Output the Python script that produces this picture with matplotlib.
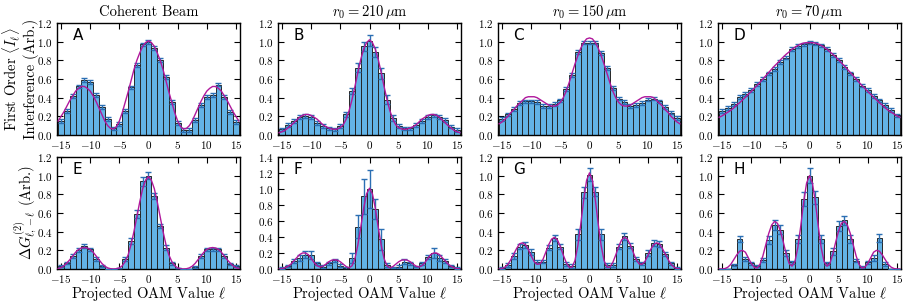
import matplotlib
matplotlib.use("Agg")
import matplotlib.pyplot as plt
import numpy as np

plt.rcParams['font.family'] = 'serif'
plt.rcParams['font.serif'] = ['cmr10', 'DejaVu Serif']
plt.rcParams['mathtext.fontset'] = 'cm'
plt.rcParams['axes.formatter.use_mathtext'] = True
plt.rcParams['axes.unicode_minus'] = True

# OAM values of the bars and of the fit curves
ell = np.arange(-15, 16)
ell_fit = np.arange(-15.5, 15.51, 0.5)

# ---- top row: first order interference ----
A_vals = [0.15, 0.26, 0.42, 0.52, 0.59, 0.57, 0.43, 0.30, 0.17, 0.07, 0.12, 0.26, 0.51, 0.75, 0.97, 1.00,
          0.93, 0.80, 0.62, 0.35, 0.13, 0.05, 0.05, 0.16, 0.32, 0.41, 0.43, 0.54, 0.41, 0.25, 0.14]
A_err = [0.02] * 31
A_fit = [0.15, 0.20, 0.25, 0.31, 0.37, 0.42, 0.47, 0.50, 0.52, 0.52, 0.50, 0.47, 0.42, 0.36, 0.29, 0.22,
         0.15, 0.10, 0.07, 0.065, 0.09, 0.15, 0.24, 0.35, 0.46, 0.58, 0.70, 0.80, 0.88, 0.95, 0.99,
         1.01,
         0.99, 0.95, 0.88, 0.80, 0.70, 0.58, 0.46, 0.35, 0.24, 0.15, 0.09, 0.065, 0.07, 0.10, 0.15,
         0.22, 0.29, 0.36, 0.42, 0.47, 0.50, 0.52, 0.52, 0.50, 0.47, 0.42, 0.37, 0.31, 0.25, 0.20, 0.15]

B_vals = [0.06, 0.11, 0.15, 0.19, 0.20, 0.19, 0.13, 0.10, 0.07, 0.06, 0.10, 0.22, 0.47, 0.72, 0.95, 1.01,
          0.89, 0.66, 0.38, 0.18, 0.10, 0.07, 0.07, 0.11, 0.15, 0.19, 0.21, 0.19, 0.16, 0.09, 0.05]
B_err = [0.02, 0.02, 0.02, 0.02, 0.02, 0.02, 0.02, 0.02, 0.02, 0.02, 0.02, 0.03, 0.03, 0.05, 0.05, 0.06,
         0.05, 0.06, 0.05, 0.03, 0.02, 0.02, 0.02, 0.02, 0.02, 0.02, 0.02, 0.02, 0.02, 0.02, 0.02]
B_fit = [0.025, 0.035, 0.05, 0.075, 0.10, 0.13, 0.16, 0.19, 0.21, 0.22, 0.22, 0.21, 0.19, 0.17, 0.14, 0.11,
         0.09, 0.075, 0.065, 0.06, 0.065, 0.08, 0.11, 0.17, 0.26, 0.38, 0.52, 0.67, 0.81, 0.92, 0.99,
         1.02,
         0.99, 0.92, 0.81, 0.67, 0.52, 0.38, 0.26, 0.17, 0.11, 0.08, 0.065, 0.06, 0.065, 0.075, 0.09,
         0.11, 0.14, 0.17, 0.19, 0.21, 0.22, 0.22, 0.21, 0.19, 0.16, 0.13, 0.10, 0.075, 0.05, 0.035, 0.025]

C_vals = [0.17, 0.22, 0.28, 0.34, 0.36, 0.36, 0.35, 0.31, 0.31, 0.33, 0.37, 0.49, 0.64, 0.89, 0.99, 0.99,
          0.99, 0.88, 0.72, 0.50, 0.39, 0.35, 0.31, 0.32, 0.34, 0.38, 0.39, 0.36, 0.30, 0.24, 0.18]
C_err = [0.02] * 31
C_fit = [0.12, 0.14, 0.17, 0.20, 0.24, 0.27, 0.31, 0.34, 0.37, 0.40, 0.41, 0.41, 0.41, 0.40, 0.38, 0.36,
         0.34, 0.32, 0.31, 0.31, 0.32, 0.35, 0.40, 0.47, 0.56, 0.66, 0.76, 0.85, 0.93, 0.99, 1.03,
         1.04,
         1.03, 0.99, 0.93, 0.85, 0.76, 0.66, 0.56, 0.47, 0.40, 0.35, 0.32, 0.31, 0.31, 0.32, 0.34,
         0.36, 0.38, 0.40, 0.41, 0.41, 0.41, 0.40, 0.37, 0.34, 0.31, 0.27, 0.24, 0.20, 0.17, 0.14, 0.12]

D_vals = [0.26, 0.29, 0.33, 0.41, 0.44, 0.48, 0.55, 0.60, 0.66, 0.71, 0.78, 0.83, 0.92, 0.95, 0.97, 0.99,
          0.98, 0.96, 0.92, 0.86, 0.80, 0.73, 0.66, 0.60, 0.53, 0.48, 0.42, 0.37, 0.32, 0.27, 0.21]
D_err = [0.02] * 31
D_fit = [0.19, 0.205, 0.225, 0.245, 0.265, 0.29, 0.32, 0.345, 0.375, 0.405, 0.435, 0.465, 0.50, 0.53,
         0.565, 0.60, 0.635, 0.67, 0.705, 0.74, 0.77, 0.805, 0.835, 0.865, 0.89, 0.92, 0.94, 0.96,
         0.975, 0.985, 0.99,
         0.99,
         0.99, 0.985, 0.975, 0.96, 0.94, 0.92, 0.89, 0.865, 0.835, 0.805, 0.77, 0.74, 0.705, 0.67,
         0.635, 0.60, 0.565, 0.53, 0.50, 0.465, 0.435, 0.405, 0.375, 0.345, 0.32, 0.29, 0.265, 0.245,
         0.225, 0.205, 0.19]

# ---- bottom row: second order correlations ----
E_vals = [0.03, 0.06, 0.14, 0.20, 0.25, 0.21, 0.11, 0.03, 0.00, 0.00, 0.01, 0.11, 0.30, 0.59, 0.94, 1.00,
          0.78, 0.46, 0.23, 0.06, 0.01, 0.00, 0.00, 0.02, 0.14, 0.21, 0.21, 0.21, 0.14, 0.05, 0.03]
E_err = [0.01, 0.01, 0.02, 0.02, 0.02, 0.02, 0.02, 0.01, 0.0, 0.0, 0.0, 0.02, 0.03, 0.04, 0.05, 0.04,
         0.03, 0.02, 0.03, 0.02, 0.0, 0.0, 0.0, 0.01, 0.02, 0.02, 0.02, 0.02, 0.02, 0.01, 0.01]
E_fit = [0.005, 0.015, 0.035, 0.065, 0.10, 0.14, 0.18, 0.21, 0.225, 0.23, 0.225, 0.21, 0.18, 0.14, 0.10,
         0.06, 0.03, 0.012, 0.003, 0.0, 0.003, 0.012, 0.035, 0.08, 0.15, 0.26, 0.40, 0.56, 0.72, 0.86, 0.95,
         0.99,
         0.95, 0.86, 0.72, 0.56, 0.40, 0.26, 0.15, 0.08, 0.035, 0.012, 0.003, 0.0, 0.003, 0.012, 0.03,
         0.06, 0.10, 0.14, 0.18, 0.21, 0.225, 0.23, 0.225, 0.21, 0.18, 0.14, 0.10, 0.065, 0.035, 0.015, 0.005]

F_vals = [0.01, 0.04, 0.10, 0.14, 0.18, 0.17, 0.07, 0.03, 0.07, 0.11, 0.04, 0.01, 0.14, 0.53, 0.91, 1.00,
          0.75, 0.37, 0.05, 0.02, 0.03, 0.09, 0.07, 0.03, 0.07, 0.15, 0.20, 0.14, 0.10, 0.04, 0.01]
F_err = [0.01, 0.01, 0.03, 0.04, 0.04, 0.05, 0.02, 0.02, 0.02, 0.02, 0.02, 0.02, 0.06, 0.14, 0.22, 0.24,
         0.12, 0.13, 0.02, 0.01, 0.02, 0.03, 0.02, 0.01, 0.02, 0.03, 0.06, 0.04, 0.03, 0.01, 0.01]
F_fit = [0.0, 0.005, 0.015, 0.035, 0.06, 0.10, 0.14, 0.18, 0.20, 0.20, 0.18, 0.13, 0.08, 0.04, 0.025,
         0.035, 0.06, 0.09, 0.11, 0.115, 0.11, 0.09, 0.06, 0.03, 0.015, 0.04, 0.13, 0.30, 0.52, 0.76, 0.94,
         1.01,
         0.94, 0.76, 0.52, 0.30, 0.13, 0.04, 0.015, 0.03, 0.06, 0.09, 0.11, 0.115, 0.11, 0.09, 0.06,
         0.035, 0.025, 0.04, 0.08, 0.13, 0.18, 0.20, 0.20, 0.18, 0.14, 0.10, 0.06, 0.035, 0.015, 0.005, 0.0]

G_vals = [0.01, 0.04, 0.14, 0.24, 0.26, 0.18, 0.08, 0.08, 0.23, 0.33, 0.24, 0.05, 0.03, 0.37, 0.82, 1.01,
          0.83, 0.37, 0.04, 0.04, 0.24, 0.35, 0.25, 0.11, 0.06, 0.17, 0.28, 0.27, 0.16, 0.06, 0.01]
G_err = [0.01, 0.02, 0.03, 0.03, 0.03, 0.03, 0.02, 0.02, 0.03, 0.03, 0.03, 0.02, 0.02, 0.06, 0.06, 0.07,
         0.05, 0.06, 0.02, 0.02, 0.03, 0.04, 0.03, 0.02, 0.02, 0.03, 0.03, 0.03, 0.02, 0.02, 0.01]
G_fit = [0.0, 0.005, 0.02, 0.05, 0.10, 0.16, 0.22, 0.27, 0.28, 0.26, 0.21, 0.14, 0.08, 0.05, 0.055, 0.10,
         0.18, 0.26, 0.32, 0.34, 0.31, 0.24, 0.15, 0.07, 0.02, 0.02, 0.09, 0.25, 0.48, 0.74, 0.95,
         1.03,
         0.95, 0.74, 0.48, 0.25, 0.09, 0.02, 0.02, 0.07, 0.15, 0.24, 0.31, 0.34, 0.32, 0.26, 0.18, 0.10,
         0.055, 0.05, 0.08, 0.14, 0.21, 0.26, 0.28, 0.27, 0.22, 0.16, 0.10, 0.05, 0.02, 0.005, 0.0]

H_vals = [0.00, 0.00, 0.04, 0.32, 0.11, 0.06, 0.03, 0.10, 0.31, 0.47, 0.42, 0.17, 0.07, 0.32, 0.75, 1.00,
          0.77, 0.32, 0.06, 0.19, 0.46, 0.52, 0.32, 0.09, 0.02, 0.07, 0.12, 0.33, 0.05, 0.00, 0.00]
H_err = [0.0, 0.0, 0.01, 0.03, 0.02, 0.02, 0.01, 0.02, 0.04, 0.05, 0.05, 0.03, 0.02, 0.04, 0.07, 0.08,
         0.07, 0.04, 0.02, 0.04, 0.05, 0.05, 0.04, 0.02, 0.01, 0.02, 0.03, 0.04, 0.02, 0.0, 0.0]
H_fit = [0.0, 0.0, 0.005, 0.02, 0.05, 0.10, 0.15, 0.19, 0.20, 0.18, 0.12, 0.06, 0.02, 0.01, 0.05, 0.14,
         0.26, 0.38, 0.47, 0.51, 0.49, 0.41, 0.29, 0.16, 0.06, 0.03, 0.08, 0.23, 0.46, 0.72, 0.92,
         1.00,
         0.92, 0.72, 0.46, 0.23, 0.08, 0.03, 0.06, 0.16, 0.29, 0.41, 0.49, 0.51, 0.47, 0.38, 0.26, 0.14,
         0.05, 0.01, 0.02, 0.06, 0.12, 0.18, 0.20, 0.19, 0.15, 0.10, 0.05, 0.02, 0.005, 0.0, 0.0]

titles = ['Coherent Beam', r'$r_0 = 210\,\mathrm{\mu m}$',
          r'$r_0 = 150\,\mathrm{\mu m}$', r'$r_0 = 70\,\mathrm{\mu m}$']
letters = ['A', 'B', 'C', 'D', 'E', 'F', 'G', 'H']
ymax = [1.2, 1.2, 1.2, 1.2, 1.2, 1.4, 1.2, 1.2]
panels = [(A_vals, A_err, A_fit), (B_vals, B_err, B_fit), (C_vals, C_err, C_fit), (D_vals, D_err, D_fit),
          (E_vals, E_err, E_fit), (F_vals, F_err, F_fit), (G_vals, G_err, G_fit), (H_vals, H_err, H_fit)]

W, H = 909, 305
fig = plt.figure(figsize=(W / 100, H / 100), dpi=100)
lefts = [57, 278, 498, 718]
bottoms = [135, 269]  # pixel position of the axes bottom, from top
aw, ah = 183, 112

for i, (vals, err, fit) in enumerate(panels):
    row, col = divmod(i, 4)
    ax = fig.add_axes([lefts[col] / W, 1 - bottoms[row] / H, aw / W, ah / H])
    ax.bar(ell, vals, width=1.0, color='#63b3e6', edgecolor='#262626', linewidth=0.7, zorder=2)
    ax.errorbar(ell, vals, yerr=err, fmt='none', ecolor='#2b6fb3', elinewidth=1.0,
                capsize=2.5, capthick=1.0, zorder=3)
    ax.plot(ell_fit, fit, color='#b0189c', lw=1.0, zorder=4)
    ax.set_xlim(-15.7, 15.7)
    ax.set_ylim(0, ymax[i])
    ax.set_xticks([-15, -10, -5, 0, 5, 10, 15])
    ax.set_yticks(np.arange(0, ymax[i] + 0.01, 0.2))
    ax.tick_params(direction='in', top=True, right=True, length=4, width=0.8, labelsize=8, pad=3)
    for s in ax.spines.values():
        s.set_linewidth(1.0)
    ax.text(0.085, 0.955, letters[i], transform=ax.transAxes, ha='left', va='top',
            fontsize=11, family='DejaVu Sans')
    if row == 0:
        ax.set_title(titles[col], fontsize=10.5, pad=5)
    else:
        ax.set_xlabel(r'Projected OAM Value $\ell$', fontsize=10.5)
        ax.xaxis.set_label_coords(0.5, -0.13)
    if col == 0:
        if row == 0:
            ax.set_ylabel('First Order $\\langle I_\\ell \\rangle$\nInterference (Arb.)',
                          fontsize=10.5, linespacing=1.05)
            ax.yaxis.set_label_coords(-0.1, 0.5)
        else:
            ax.set_ylabel(r'$\Delta G^{(2)}_{\ell,-\ell}$ (Arb.)', fontsize=10.5)
            ax.yaxis.set_label_coords(-0.1, 0.5)

fig.savefig('out.png', dpi=100)
